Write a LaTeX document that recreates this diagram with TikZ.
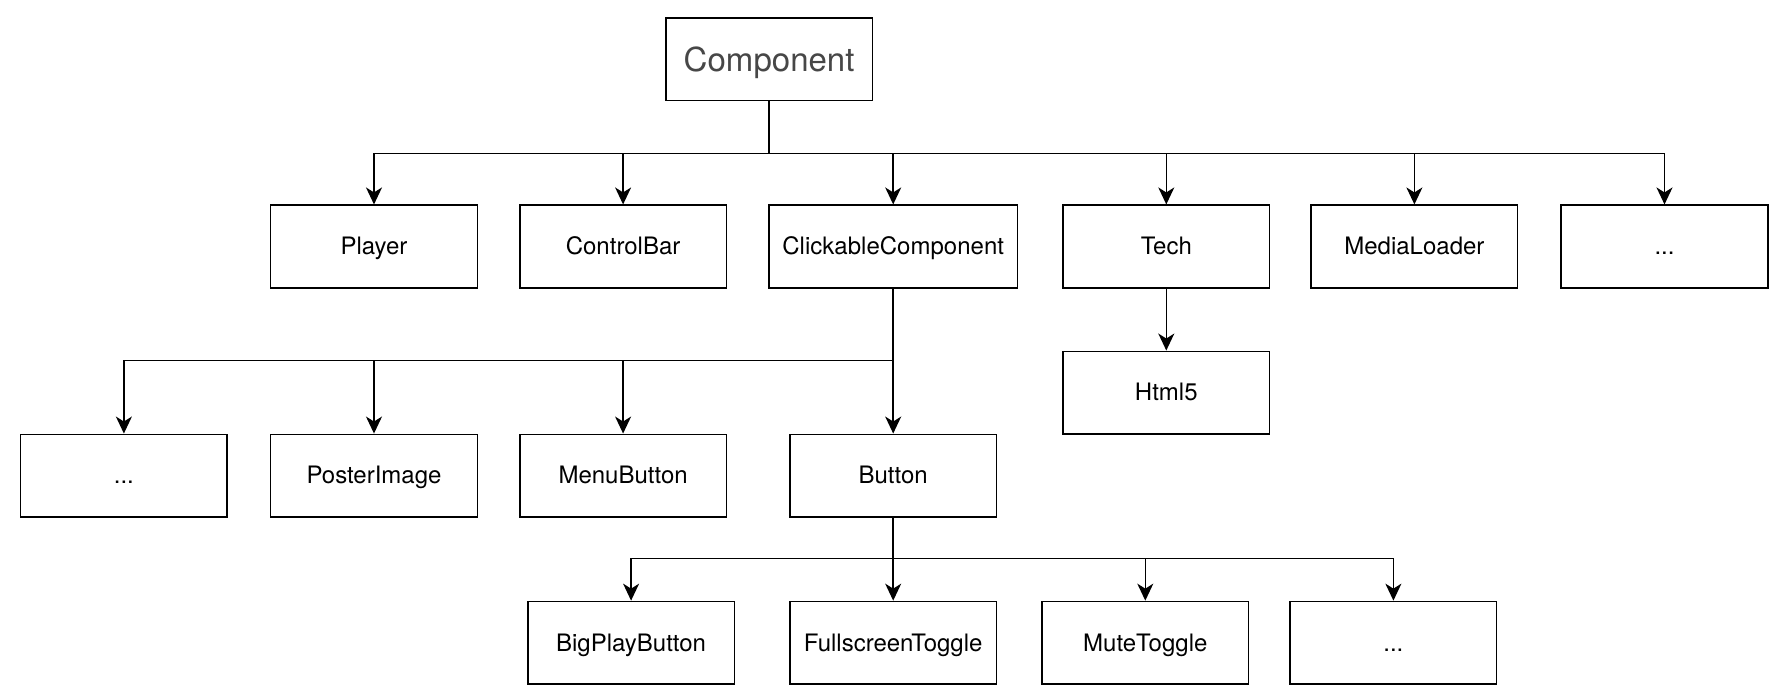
\documentclass[tikz,border=0pt]{standalone}
\usepackage{fontspec}
\setmainfont{TeX Gyre Heros}
\usetikzlibrary{positioning, arrows.meta}

\begin{document}
\begin{tikzpicture}[node distance=20pt,
    cls/.style={draw, line width=0.75pt, minimum width=103.3pt, minimum height=41.3pt, inner sep=2pt, text height=9pt, text depth=0.6pt, font=\fontsize{12}{14}\selectfont},
    arr/.style={line width=0.75pt, -{Stealth[length=8.5pt, width=8pt, inset=2.5pt]}},
    bus/.style={line width=0.75pt}]
  \useasboundingbox (-187pt,-226.75pt) rectangle (707.5pt,123.25pt);

  % first level
  \node[cls] (player) at (0,0) {Player};
  \node[cls, right=20.5pt of player]  (controlbar)  {ControlBar};
  \node[cls, minimum width=124.3pt, right=20.5pt of controlbar]  (clickable)  {ClickableComponent};
  \node[cls, right=22pt of clickable]  (tech)  {Tech};
  \node[cls, right=20pt of tech]  (medialoader)  {MediaLoader};
  \node[cls, right=21pt of medialoader]  (more1)  {...};
  \node[cls, above=51.5pt of controlbar, xshift=73pt, font=\fontsize{16.5}{19}\selectfont, text height=13pt, text depth=0.5pt, text=black!72]  (comp)  {Component};

  % second level
  \node[cls, below=31pt of tech]  (html5)  {Html5};
  \node[cls, below=72.5pt of clickable]  (button)  {Button};
  \node[cls, below=72.5pt of controlbar]  (menubutton)  {MenuButton};
  \node[cls, below=72.5pt of player]  (poster)  {PosterImage};
  \node[cls, left=21pt of poster]  (more2)  {...};

  % third level
  \node[cls, below=41.5pt of button]  (fullscreen)  {FullscreenToggle};
  \node[cls, left=27pt of fullscreen]  (bigplay)  {BigPlayButton};
  \node[cls, right=22pt of fullscreen]  (mute)  {MuteToggle};
  \node[cls, right=20pt of mute]  (more3)  {...};

  \coordinate[below=26pt of comp.south] (bus1);
  \coordinate[below=36pt of clickable.south] (bus2);
  \coordinate[below=20.5pt of button.south] (bus3);

  \draw[bus] (comp) -- (bus1);
  \draw[arr] (bus1) -| (player);
  \draw[arr] (bus1) -| (controlbar);
  \draw[arr] (bus1) -| (clickable);
  \draw[arr] (bus1) -| (tech);
  \draw[arr] (bus1) -| (medialoader);
  \draw[arr] (bus1) -| (more1);

  \draw[arr] (tech) -- (html5);

  \draw[arr] (clickable) -- (button);
  \draw[arr] (bus2) -| (menubutton);
  \draw[arr] (bus2) -| (poster);
  \draw[arr] (bus2) -| (more2);

  \draw[bus] (button) -- (bus3);
  \draw[arr] (bus3) -| (bigplay);
  \draw[arr] (bus3) -| (fullscreen);
  \draw[arr] (bus3) -| (mute);
  \draw[arr] (bus3) -| (more3);
\end{tikzpicture}
\end{document}
